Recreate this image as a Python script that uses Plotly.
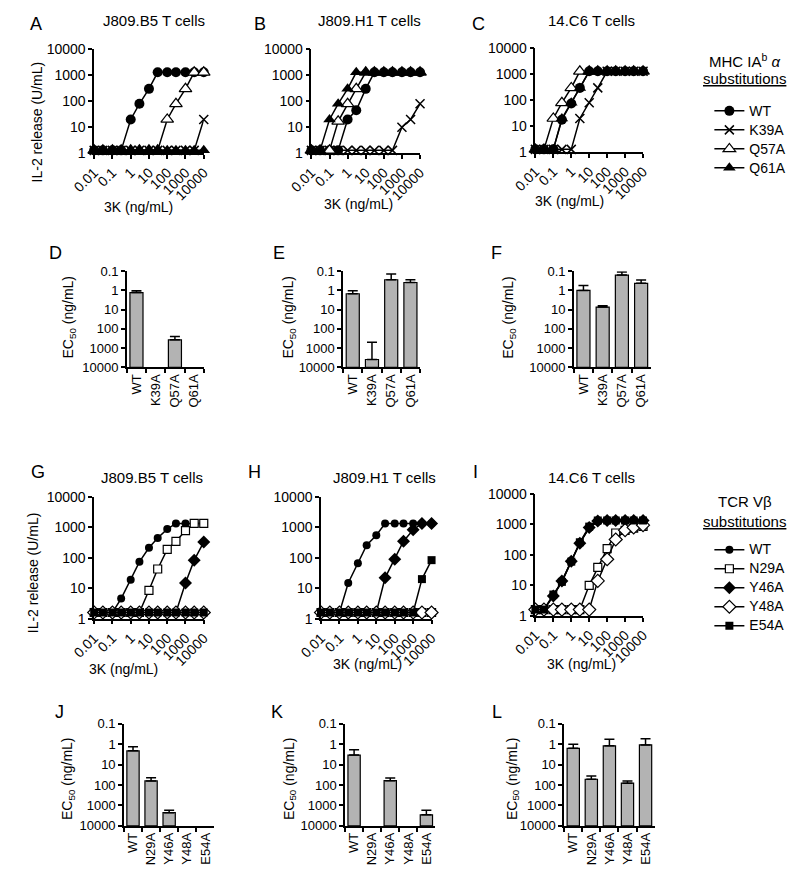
import plotly.graph_objects as go

W, H = 800, 882

# 3K doses (ng/mL) and axis ticks
dose = [0.01, 0.03, 0.1, 0.3, 1, 3, 10, 30, 100, 300, 1000, 3000, 10000]
dose_ticks = [0.01, 0.1, 1, 10, 100, 1000, 10000]
dose_ticktext = ["0.01", "0.1", "1", "10", "100", "1000", "10000"]
il2_ticks = [1, 10, 100, 1000, 10000]
il2_ticktext = ["1", "10", "100", "1000", "10000"]
ec50_ticks = [0.1, 1, 10, 100, 1000, 10000]
ec50_ticktext = ["0.1", "1", "10", "100", "1000", "10000"]

mhc_labels = ["WT", "K39A", "Q57A", "Q61A"]
tcr_labels = ["WT", "N29A", "Y46A", "Y48A", "E54A"]

# IL-2 release (U/mL) - MHC IAb alpha substitutions
A_WT = [1.3, 1.3, 1.3, 1.3, 20, 80, 300, 1300, 1300, 1300, 1300, 1300, 1300]
A_K39A = [1.3, 1.3, 1.3, 1.3, 1.3, 1.3, 1.3, 1.3, 1.3, 1.3, 1.3, 1.3, 20]
A_Q57A = [1.3, 1.3, 1.3, 1.3, 1.3, 1.3, 1.3, 1.3, 20, 80, 300, 1300, 1300]
A_Q61A = [1.3, 1.3, 1.3, 1.3, 1.3, 1.3, 1.3, 1.3, 1.3, 1.3, 1.3, 1.3, 1.3]

B_WT = [1.3, 1.3, 1.3, 1.3, 20, 45, 300, 1300, 1300, 1300, 1300, 1300, 1300]
B_K39A = [1.3, 1.3, 1.3, 1.3, 1.3, 1.3, 1.3, 1.3, 1.3, 1.3, 10, 20, 80]
B_Q57A = [1.3, 1.3, 1.3, 17, 80, 300, 1300, 1300, 1300, 1300, 1300, 1300, 1300]
B_Q61A = [1.3, 1.3, 20, 80, 300, 1300, 1300, 1300, 1300, 1300, 1300, 1300, 1300]

C_WT = [1.3, 1.3, 1.3, 18, 75, 300, 1300, 1300, 1300, 1300, 1300, 1300, 1300]
C_K39A = [1.3, 1.3, 1.3, 1.3, 1.3, 20, 80, 300, 1300, 1300, 1300, 1300, 1300]
C_Q57A = [1.3, 1.3, 20, 80, 300, 1300, 1300, 1300, 1300, 1300, 1300, 1300, 1300]
C_Q61A = [1.3, 1.3, 1.3, 20, 80, 300, 1300, 1300, 1300, 1300, 1300, 1300, 1300]

# IL-2 release (U/mL) - TCR Vbeta substitutions
G_WT = [1.6, 1.6, 1.6, 4.6, 19, 74, 215, 450, 880, 1350, 1350, 1350, 1350]
G_N29A = [1.6, 1.6, 1.6, 1.6, 1.6, 1.6, 8.6, 43, 190, 350, 780, 1350, 1350]
G_Y46A = [1.6, 1.6, 1.6, 1.6, 1.6, 1.6, 1.6, 1.6, 1.6, 1.6, 15, 84, 330]
G_Y48A = [1.6, 1.6, 1.6, 1.6, 1.6, 1.6, 1.6, 1.6, 1.6, 1.6, 1.6, 1.6, 1.6]
G_E54A = [1.6, 1.6, 1.6, 1.6, 1.6, 1.6, 1.6, 1.6, 1.6, 1.6, 1.6, 1.6, 1.6]

H_WT = [1.6, 1.6, 1.6, 15, 66, 260, 550, 1350, 1350, 1350, 1350, 1350, 1350]
H_N29A = [1.6, 1.6, 1.6, 1.6, 1.6, 1.6, 1.6, 1.6, 1.6, 1.6, 1.6, 1.6, 1.6]
H_Y46A = [1.6, 1.6, 1.6, 1.6, 1.6, 1.6, 1.6, 22, 90, 350, 840, 1350, 1350]
H_Y48A = [1.6, 1.6, 1.6, 1.6, 1.6, 1.6, 1.6, 1.6, 1.6, 1.6, 1.6, 1.6, 1.6]
H_E54A = [1.6, 1.6, 1.6, 1.6, 1.6, 1.6, 1.6, 1.6, 1.6, 1.6, 1.6, 20, 84]

I_WT = [1.6, 1.6, 4.5, 13, 64, 250, 760, 1250, 1350, 1350, 1350, 1350, 1350]
I_N29A = [1.6, 1.6, 1.6, 1.6, 1.6, 1.6, 10, 39, 160, 525, 640, 760, 860]
I_Y46A = [1.6, 1.6, 4.5, 14, 62, 240, 800, 1300, 1350, 1350, 1350, 1350, 1350]
I_Y48A = [1.6, 1.6, 1.6, 1.6, 1.6, 1.6, 1.6, 14, 72, 320, 650, 800, 950]
I_E54A = [1.6, 1.6, 5, 13, 60, 260, 850, 1350, 1350, 1350, 1350, 1350, 1350]

# EC50 (ng/mL) bars and top of error bars (None = no response)
D_ec50 = [1.3, None, 370, None]
D_err = [1.03, None, 250, None]
E_ec50 = [1.5, 3900, 0.28, 0.39]
E_err = [1.04, 490, 0.14, 0.28]
F_ec50 = [1.0, 7.4, 0.16, 0.43]
F_err = [0.56, 6.3, 0.11, 0.29]
J_ec50 = [2.1, 63, 2250, None, None]
J_err = [1.34, 44, 1730, None, None]
K_ec50 = [3.4, None, 61, None, 2860]
K_err = [1.85, None, 45, None, 1730]
L_ec50 = [1.6, 52, 1.2, 81, 1.08]
L_err = [1.0, 36, 0.58, 63, 0.54]

mhc_style = {
    "WT": dict(symbol="circle", size=10, color="black"),
    "K39A": dict(symbol="x-thin", size=9, color="black", line=dict(width=1.5, color="black")),
    "Q57A": dict(symbol="triangle-up", size=11, color="white", line=dict(width=1.2, color="black")),
    "Q61A": dict(symbol="triangle-up", size=11, color="black"),
}
tcr_style = {
    "WT": dict(symbol="circle", size=8, color="black"),
    "N29A": dict(symbol="square", size=8, color="white", line=dict(width=1.2, color="black")),
    "Y46A": dict(symbol="diamond", size=10, color="black"),
    "Y48A": dict(symbol="diamond", size=10, color="white", line=dict(width=1.2, color="black")),
    "E54A": dict(symbol="square", size=8, color="black"),
}

fig = go.Figure()
layout_axes = {}
annotations = []
FONT = "Liberation Sans, Arial, sans-serif"


def ax_id(n):
    return "" if n == 1 else str(n)


def base_axis():
    return dict(showline=True, linecolor="black", linewidth=1.5, ticks="outside", ticklen=4,
                tickwidth=1.5, tickcolor="black", showgrid=False, zeroline=False)


def set_axes(n, box, xaxis, yaxis):
    x0, x1, yt, yb = box
    xaxis.update(domain=[x0 / W, x1 / W], anchor="y" + ax_id(n))
    yaxis.update(domain=[1 - yb / H, 1 - yt / H], anchor="x" + ax_id(n))
    layout_axes["xaxis" + ax_id(n)] = xaxis
    layout_axes["yaxis" + ax_id(n)] = yaxis


def line_panel(n, box, series, styles, legend_name, showlegend):
    for name, vals in series:
        fig.add_trace(go.Scatter(
            x=dose, y=vals, mode="lines+markers",
            name='<span style="font-size:14px">' + name + '</span>',
            line=dict(color="black", width=1.5), marker=styles[name],
            xaxis="x" + ax_id(n), yaxis="y" + ax_id(n), cliponaxis=False,
            legend=legend_name, showlegend=showlegend))
    xa = base_axis()
    xa.update(type="log", range=[-2, 4], tickvals=dose_ticks, ticktext=dose_ticktext,
              tickangle=-45, tickfont=dict(size=14))
    ya = base_axis()
    ya.update(type="log", range=[0, 4], tickvals=il2_ticks, ticktext=il2_ticktext,
              tickfont=dict(size=14))
    set_axes(n, box, xa, ya)


def bar_panel(n, box, labels, vals, errs):
    fig.add_trace(go.Bar(
        x=labels, y=[None if v is None else 10000 - v for v in vals],
        base=[10000 if v is None else v for v in vals], width=0.68,
        marker=dict(color="#b3b3b3", line=dict(color="black", width=1.2)),
        xaxis="x" + ax_id(n), yaxis="y" + ax_id(n), showlegend=False))
    fig.add_trace(go.Scatter(
        x=labels, y=vals, mode="markers", marker=dict(size=1, opacity=0),
        error_y=dict(type="data", symmetric=False,
                     array=[0 for v in vals],
                     arrayminus=[0 if v is None else v - e for v, e in zip(vals, errs)],
                     color="black", thickness=1.5, width=5),
        xaxis="x" + ax_id(n), yaxis="y" + ax_id(n), showlegend=False, cliponaxis=False))
    xa = base_axis()
    xa.update(type="category", categoryorder="array", categoryarray=labels,
              range=[-0.5, len(labels) - 0.5], tickson="boundaries", tickangle=-90,
              tickfont=dict(size=13))
    ya = base_axis()
    ya.update(type="log", range=[4, -1], tickvals=ec50_ticks, ticktext=ec50_ticktext,
              tickfont=dict(size=13))
    set_axes(n, box, xa, ya)


def ann(text, px, py, size=14, angle=0, xanchor="center"):
    annotations.append(dict(text=text, x=px / W, y=1 - py / H, xref="paper", yref="paper",
                            showarrow=False, textangle=angle, xanchor=xanchor, yanchor="middle",
                            font=dict(size=size, family=FONT, color="black")))


line_panel(1, (73, 187, 42, 148),
           [("WT", A_WT), ("K39A", A_K39A), ("Q57A", A_Q57A), ("Q61A", A_Q61A)],
           mhc_style, "legend", True)
line_panel(2, (299, 412, 42, 148),
           [("WT", B_WT), ("K39A", B_K39A), ("Q57A", B_Q57A), ("Q61A", B_Q61A)],
           mhc_style, "legend", False)
line_panel(3, (532, 644, 41, 147),
           [("WT", C_WT), ("K39A", C_K39A), ("Q57A", C_Q57A), ("Q61A", C_Q61A)],
           mhc_style, "legend", False)
bar_panel(4, (107, 187, 268, 366), mhc_labels, D_ec50, D_err)
bar_panel(5, (332, 412, 268, 366), mhc_labels, E_ec50, E_err)
bar_panel(6, (572, 652, 268, 366), mhc_labels, F_ec50, F_err)
line_panel(7, (73, 187, 498, 622),
           [("WT", G_WT), ("N29A", G_N29A), ("Y46A", G_Y46A), ("Y48A", G_Y48A), ("E54A", G_E54A)],
           tcr_style, "legend2", True)
line_panel(8, (309, 424, 498, 622),
           [("WT", H_WT), ("N29A", H_N29A), ("Y46A", H_Y46A), ("Y48A", H_Y48A), ("E54A", H_E54A)],
           tcr_style, "legend2", False)
line_panel(9, (532, 644, 495, 619),
           [("WT", I_WT), ("N29A", I_N29A), ("Y46A", I_Y46A), ("Y48A", I_Y48A), ("E54A", I_E54A)],
           tcr_style, "legend2", False)
bar_panel(10, (104, 198, 729, 833), tcr_labels, J_ec50, J_err)
bar_panel(11, (334, 428, 729, 833), tcr_labels, K_ec50, K_err)
bar_panel(12, (562, 656, 729, 833), tcr_labels, L_ec50, L_err)

# panel letters
for letter, px, py in [("A", 12, 16), ("B", 245, 16), ("C", 473, 16),
                       ("D", 33, 250), ("E", 265, 250), ("F", 492, 250),
                       ("G", 15, 473), ("H", 240, 473), ("I", 470, 473),
                       ("J", 37, 717), ("K", 263, 717), ("L", 492, 717)]:
    ann(letter, px, py, size=18)

# panel titles
for title, px, py in [("J809.B5 T cells", 135, 13), ("J809.H1 T cells", 359, 13),
                      ("14.C6 T cells", 590, 13), ("J809.B5 T cells", 133, 478),
                      ("J809.H1 T cells", 375, 478), ("14.C6 T cells", 590, 478)]:
    ann(title, px, py, size=15)

# x titles
for px, py in [(119, 203), (348, 200), (568, 197), (103, 673), (357, 668), (580, 668)]:
    ann("3K (ng/mL)", px, py, size=14)

# y titles
ann("IL-2 release (U/mL)", 13, 116, size=14, angle=-90)
ann("IL-2 release (U/mL)", 9, 575, size=14, angle=-90)
for px, py in [(47, 315), (276, 315), (505, 315), (46, 785), (276, 785), (508, 785)]:
    ann("EC<sub>50</sub> (ng/mL)", px, py, size=14, angle=-90)

# legend headers
ann("MHC IA<sup>b</sup> <i>α</i>", 750, 53, size=15)
ann("<u>substitutions</u>", 750, 72, size=15)
ann("TCR Vβ", 750, 503, size=15)
ann("<u>substitutions</u>", 750, 523, size=15)

legend_common = dict(xanchor="left", yanchor="top", bgcolor="rgba(0,0,0,0)",
                     font=dict(size=12, family=FONT, color="black"), tracegroupgap=0,
                     itemclick=False)
fig.update_layout(
    width=W, height=H, autosize=False,
    margin=dict(l=0, r=0, t=0, b=0),
    paper_bgcolor="white", plot_bgcolor="white",
    font=dict(family=FONT, color="black", size=14),
    annotations=annotations,
    legend=dict(x=713 / W, y=1 - 90 / H, **legend_common),
    legend2=dict(x=713 / W, y=1 - 537 / H, **legend_common),
    barmode="overlay",
    **layout_axes
)

# sem margem do body, para a figura ocupar a janela inteira
fig.write_html("out.html", config={"displayModeBar": False},
               post_script="document.body.style.margin='0';document.body.style.overflow='hidden';")
